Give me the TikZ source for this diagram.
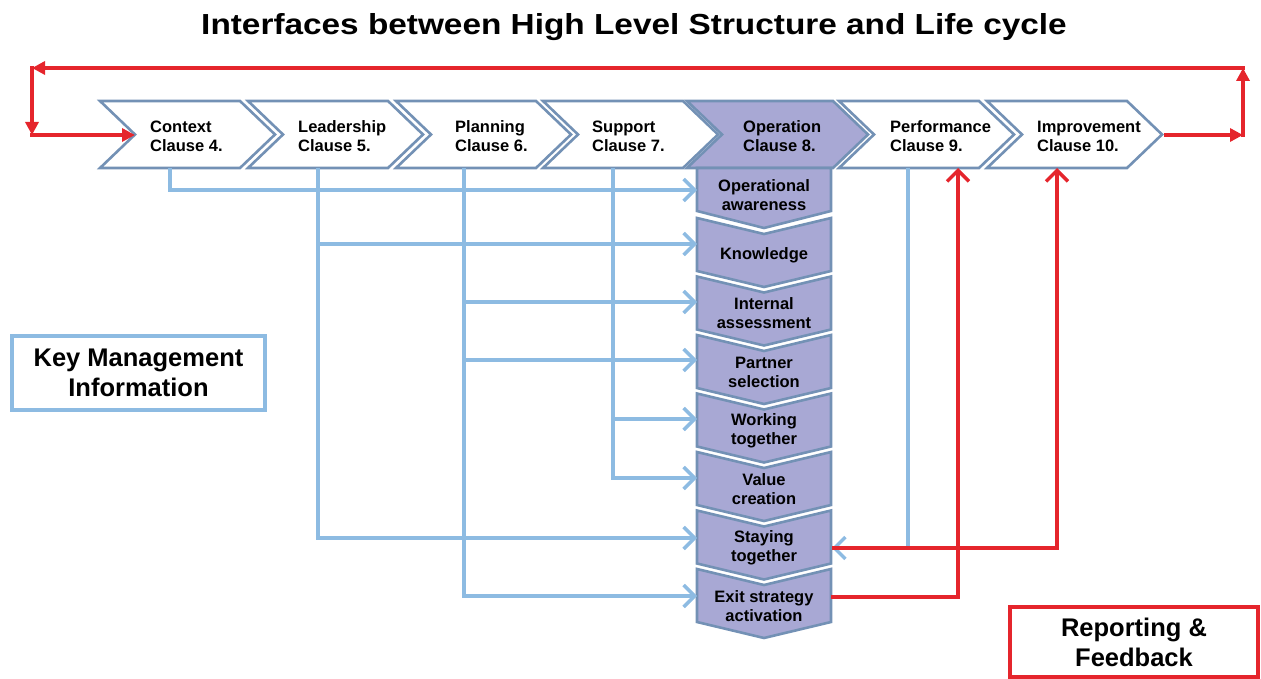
\documentclass[tikz,border=0pt]{standalone}
\usepackage{fontspec}
\setmainfont{Liberation Sans}
\usetikzlibrary{arrows.meta}
\definecolor{chevb}{HTML}{7391B5}
\definecolor{lblue}{HTML}{8DBBE2}
\definecolor{opfill}{HTML}{A8A8D4}
\definecolor{rred}{HTML}{E5252C}
\tikzset{
  chev/.style={draw=chevb, line width=2.6pt, fill=white, line join=miter},
  opchev/.style={chev, fill=opfill},
  ctext/.style={font=\fontsize{16.5}{19}\selectfont\bfseries, align=left, anchor=west, inner sep=0pt},
  btext/.style={font=\fontsize{16.5}{19}\selectfont\bfseries, align=center, inner sep=0pt},
  bl/.style={draw=lblue, line width=3.8pt},
  bla/.style={bl, -{Straight Barb[length=11pt,width=22pt,line width=3.4pt]}},
  rl/.style={draw=rred, line width=3.5pt},
  rup/.style={rl, -{Straight Barb[length=11pt,width=22pt,line width=3.4pt]}},
  ra/.style={rl, line cap=rect, -{Triangle[length=13pt,width=13pt]}},
  bigbox/.style={line width=4pt, font=\fontsize{25.5}{30}\selectfont\bfseries, align=center, inner sep=0pt},
}
\newcommand{\mychev}[3]{% x0, width, style
  \path[#3] (#1,101) -- ++(#2,0) -- ++(35,33.5) -- ++(-35,33.5) -- ++(-#2,0) -- ++(35,-33.5) -- cycle;}
\newcommand{\mybox}[1]{% top y
  \path[opchev] (697,#1) -- (764,#1+16) -- (831,#1) -- (831,#1+53) -- (764,#1+69) -- (697,#1+53) -- cycle;}
\begin{document}
\begin{tikzpicture}[x=1pt,y=-1pt]
\useasboundingbox (0,0) rectangle (1261,679);

% title
\node[font=\fontsize{29}{34}\selectfont\bfseries, inner sep=0pt] (title) at (634,27)
  {\scalebox{1.15}[1]{Interfaces between High Level Structure and Life cycle}};

% top chevrons
\mychev{100}{140}{chev}
\mychev{248}{140}{chev}
\mychev{396}{140}{chev}
\mychev{543}{140}{chev}
\mychev{687}{146}{opchev}
\mychev{839}{140}{chev}
\mychev{987}{140}{chev}
\node[ctext] (ctx)  at (150,136) {Context\\Clause 4.};
\node[ctext] (lead) at (298,136) {Leadership\\Clause 5.};
\node[ctext] (plan) at (455,136) {Planning\\Clause 6.};
\node[ctext] (sup)  at (592,136) {Support\\Clause 7.};
\node[ctext] (oper) at (743,136) {Operation\\Clause 8.};
\node[ctext] (perf) at (890,136) {Performance\\Clause 9.};
\node[ctext] (impr) at (1037,136) {Improvement\\Clause 10.};

% operation stack
\path[opchev] (697,168) -- (831,168) -- (831,211) -- (764,228) -- (697,211) -- cycle;
\mybox{218}
\mybox{276.5}
\mybox{335}
\mybox{393.5}
\mybox{452}
\mybox{510.5}
\mybox{569}
\node[btext] (oa) at (764,195) {Operational\\awareness};
\node[btext] (kn) at (764,255) {Knowledge};
\node[btext] (ia) at (764,313.5) {Internal\\assessment};
\node[btext] (ps) at (764,372) {Partner\\selection};
\node[btext] (wt) at (764,430.5) {Working\\together};
\node[btext] (vc) at (764,489) {Value\\creation};
\node[btext] (st) at (764,547.5) {Staying\\together};
\node[btext] (ex) at (764,606) {Exit strategy\\activation};

% connection points
\coordinate (ctxb) at (170,168);
\coordinate (leadb) at (318,168);
\coordinate (planb) at (464,168);
\coordinate (supb) at (613,168);
\coordinate (perfb) at (908,168);
\coordinate (perfr) at (958,168);
\coordinate (imprb) at (1057,168);
\coordinate (oaw) at (697,190);
\coordinate (knw) at (697,244);
\coordinate (iaw) at (697,302);
\coordinate (psw) at (697,360);
\coordinate (wtw) at (697,419);
\coordinate (vcw) at (697,478);
\coordinate (stw) at (697,538);
\coordinate (exw) at (697,596);
\coordinate (ste) at (832,548);
\coordinate (exe) at (831,597);
\coordinate (imprt) at (1166,135);
\coordinate (r1) at (1243,135);
\coordinate (r2) at (1243,68);
\coordinate (r3) at (32,68);
\coordinate (r4) at (32,135);
\coordinate (ctxn) at (135,135);

% blue connectors
\draw[bla] (ctxb) |- (oaw);
\draw[bla] (leadb) |- (stw);
\draw[bla] (leadb |- knw) -- (knw);
\draw[bla] (planb) |- (exw);
\draw[bla] (planb |- iaw) -- (iaw);
\draw[bla] (planb |- psw) -- (psw);
\draw[bla] (supb) |- (vcw);
\draw[bla] (supb |- wtw) -- (wtw);
\draw[bla] (perfb) |- (ste);

% red connectors
\draw[rup] (ste) -| (imprb);
\draw[rup] (exe) -| (perfr);
\draw[ra] (imprt) -- (r1);
\draw[ra] (r1) -- (r2);
\draw[ra] (r2) -- (r3);
\draw[ra] (r3) -- (r4);
\draw[ra] (r4) -- (ctxn);

% side boxes
\node[bigbox, draw=lblue, minimum width=253pt, minimum height=74pt] (kmi) at (138.5,373)
  {Key Management\\Information};
\node[bigbox, draw=rred, minimum width=248pt, minimum height=70pt] (rf) at (1134,642)
  {Reporting \&\\Feedback};
\end{tikzpicture}
\end{document}
